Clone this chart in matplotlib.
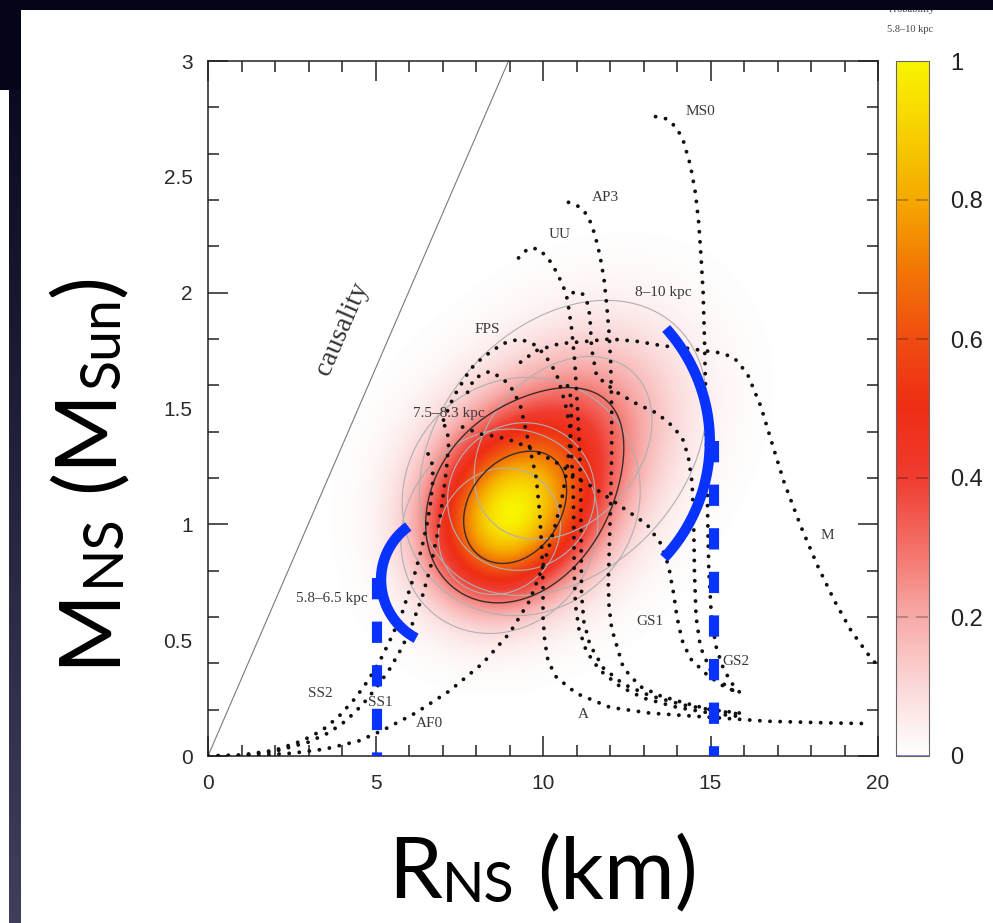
import numpy as np
import matplotlib
matplotlib.use('Agg')
import matplotlib.pyplot as plt
from matplotlib.colors import LinearSegmentedColormap, Normalize, to_rgb
from matplotlib.cm import ScalarMappable
from matplotlib.patches import Rectangle
from matplotlib.ticker import MultipleLocator
from matplotlib.font_manager import FontProperties

plt.rcParams['font.family'] = ['Liberation Sans', 'DejaVu Sans']
plt.rcParams['axes.linewidth'] = 1.1

# ---------------- data ----------------
# probability components (one per distance range): centre, widths, correlation, weight
comp_names = ['5.8–6.5 kpc', '7.5–8.3 kpc', '8–10 kpc']
comp_R0 = [8.7, 9.35, 10.6]
comp_M0 = [0.97, 1.12, 1.33]
comp_sR = [1.2, 1.45, 1.75]
comp_sM = [0.18, 0.21, 0.26]
comp_rho = [0.10, 0.05, 0.30]
comp_w = [0.7, 1.0, 0.65]
display_gamma = 0.7           # colour scale of the probability map
black_levels = [0.28, 0.68]   # combined-probability contours
gray_q_levels = [2.3, 6.0]    # per-distance contours (Mahalanobis q)

# equation-of-state mass-radius curves (R in km, M in Msun)
SS2_R = [0, 1.0, 2.0, 2.8, 3.4, 3.9, 4.4, 4.8, 5.2, 5.5, 5.8, 6.0, 6.2, 6.4, 6.55, 6.65, 6.72, 6.68, 6.55, 6.35]
SS2_M = [0, 0.004, 0.025, 0.065, 0.11, 0.17, 0.25, 0.33, 0.43, 0.52, 0.62, 0.71, 0.80, 0.91, 1.01, 1.10, 1.20, 1.27, 1.31, 1.32]
SS1_R = [0, 1.0, 2.0, 3.0, 3.6, 4.1, 4.6, 5.0, 5.4, 5.8, 6.1, 6.4, 6.65, 6.85, 7.0, 7.12, 7.18, 7.15, 7.05, 6.9]
SS1_M = [0, 0.003, 0.02, 0.06, 0.10, 0.15, 0.22, 0.29, 0.37, 0.47, 0.57, 0.69, 0.82, 0.96, 1.10, 1.24, 1.34, 1.40, 1.43, 1.44]
AF0_R = [0, 1.5, 2.5, 3.5, 4.5, 5.2, 6.2, 7.2, 8.2, 9.0, 9.6, 10.0, 10.3, 10.55, 10.72, 10.82, 10.85, 10.8, 10.65]
AF0_M = [0, 0.003, 0.012, 0.03, 0.065, 0.11, 0.186, 0.28, 0.40, 0.53, 0.67, 0.82, 0.96, 1.10, 1.24, 1.38, 1.50, 1.58, 1.62]
A_R = [7.75, 7.95, 8.4, 8.8, 9.1, 9.33, 9.5, 9.65, 9.8, 9.9, 9.96, 10.0, 10.0, 10.05, 10.15, 10.4, 11.0, 12.0, 13.2, 14.7, 16.7, 18.5, 19.6]
A_M = [1.57, 1.63, 1.66, 1.63, 1.58, 1.51, 1.40, 1.30, 1.20, 1.05, 0.90, 0.75, 0.60, 0.50, 0.41, 0.34, 0.27, 0.21, 0.185, 0.17, 0.15, 0.143, 0.14]
FPS_R = [7.03, 7.33, 7.83, 8.2, 8.8, 9.3, 9.7, 10.0, 10.2, 10.4, 10.55, 10.7, 10.8, 10.85, 10.9, 10.92, 10.93, 10.97, 11.07, 11.3, 11.7, 12.3, 13.0, 14.0, 15.0, 15.9]
FPS_M = [1.45, 1.55, 1.67, 1.72, 1.78, 1.80, 1.78, 1.74, 1.70, 1.65, 1.58, 1.50, 1.42, 1.30, 1.15, 1.0, 0.8, 0.65, 0.55, 0.45, 0.37, 0.30, 0.25, 0.21, 0.185, 0.17]
UU_R = [9.27, 9.55, 9.85, 10.15, 10.4, 10.6, 10.73, 10.85, 10.95, 11.03, 11.1, 11.13, 11.14, 11.15, 11.22, 11.4, 11.8, 12.4, 13.2, 14.2, 15.2, 15.9]
UU_M = [2.15, 2.19, 2.19, 2.15, 2.09, 2.03, 1.97, 1.85, 1.70, 1.50, 1.30, 1.10, 0.90, 0.70, 0.58, 0.48, 0.38, 0.31, 0.26, 0.22, 0.195, 0.18]
AP3_R = [10.76, 11.1, 11.35, 11.55, 11.7, 11.82, 11.9, 11.97, 12.02, 12.05, 12.05, 12.02, 11.98, 11.95, 11.97, 12.05, 12.4, 12.9, 13.5, 14.2, 15.0, 15.9]
AP3_M = [2.39, 2.37, 2.33, 2.25, 2.16, 2.06, 1.95, 1.83, 1.70, 1.50, 1.30, 1.10, 0.90, 0.75, 0.65, 0.55, 0.38, 0.30, 0.26, 0.23, 0.20, 0.185]
MS0_R = [13.36, 13.7, 14.0, 14.2, 14.4, 14.55, 14.65, 14.72, 14.78, 14.82, 14.85, 14.87, 14.9, 14.92, 14.95, 15.02, 15.15, 15.35, 15.6, 15.9]
MS0_M = [2.76, 2.75, 2.71, 2.65, 2.55, 2.43, 2.30, 2.15, 2.00, 1.80, 1.60, 1.40, 1.20, 1.00, 0.80, 0.62, 0.48, 0.39, 0.32, 0.27]
GS2_R = [10.9, 11.15, 11.3, 11.4, 11.45, 11.6, 12.2, 12.8, 13.4, 13.9, 14.2, 14.35, 14.45, 14.5, 14.52, 14.57, 14.7, 15.0, 15.4, 15.9]
GS2_M = [2.00, 2.00, 1.97, 1.90, 1.76, 1.64, 1.57, 1.52, 1.48, 1.42, 1.36, 1.28, 1.18, 1.00, 0.80, 0.60, 0.47, 0.37, 0.31, 0.26]
GS1_R = [7.6, 8.13, 8.6, 9.1, 9.6, 10.1, 10.6, 11.0, 11.5, 12.3, 13.1, 13.5, 13.75, 13.9, 14.0, 14.15, 14.4, 14.9, 15.4, 15.9]
GS1_M = [1.42, 1.39, 1.38, 1.36, 1.33, 1.29, 1.25, 1.20, 1.16, 1.08, 1.00, 0.92, 0.82, 0.70, 0.60, 0.50, 0.42, 0.35, 0.30, 0.27]
Mmf_R = [9.33, 9.8, 10.5, 11.3, 12.0, 12.8, 13.6, 14.3, 14.8, 15.3, 15.7, 16.1, 16.5, 16.9, 17.2, 17.7, 18.2, 18.7, 19.2, 19.7, 20.1]
Mmf_M = [1.70, 1.75, 1.78, 1.79, 1.80, 1.79, 1.77, 1.76, 1.75, 1.74, 1.72, 1.65, 1.51, 1.32, 1.18, 0.99, 0.82, 0.67, 0.54, 0.44, 0.37]

causal_R = [0.0, 8.97]
causal_M = [0.0, 3.0]

eos_labels = ['MS0', 'AP3', 'UU', 'FPS', 'A', 'GS1', 'GS2', 'M', 'SS2', 'SS1', 'AF0']
eos_label_R = [14.7, 11.85, 10.5, 8.35, 11.2, 13.2, 15.75, 18.5, 3.35, 5.15, 6.6]
eos_label_M = [2.78, 2.41, 2.25, 1.84, 0.18, 0.58, 0.41, 0.95, 0.27, 0.23, 0.14]
dist_label_R = [3.7, 7.2, 13.6]
dist_label_M = [0.68, 1.48, 2.00]

x_ticks = [0, 5, 10, 15, 20]
y_tick_vals = [0, 0.5, 1, 1.5, 2, 2.5, 3]
y_tick_text = ['0', '0.5', '1', '1.5', '2', '2.5', '3']
cb_tick_vals = [0, 0.2, 0.4, 0.6, 0.8, 1]
cb_tick_text = ['0', '0.2', '0.4', '0.6', '0.8', '1']

# blue hand-drawn annotations: arcs (centre, radii, start/end angle) and dashed verticals
arcL = dict(c=(7.14, 0.76), r=(1.975, 0.285), t=(126, 242))
arcR = dict(c=(9.9, 1.355), r=(5.08, 0.733), t=(-43, 42))
vline_R = [5.05, 15.1]
vline_top = [0.77, 1.36]

# ---------------- figure ----------------
W, H, DPI = 993, 923, 100
fig = plt.figure(figsize=(W / DPI, H / DPI), dpi=DPI)
fig.patch.set_facecolor('white')


def fx(px):
    return px / W


def fy(py):
    return 1.0 - py / H


ax = fig.add_axes([fx(208), fy(756), (878 - 208) / W, (756 - 61) / H])
ax.set_xlim(0, 20)
ax.set_ylim(0, 3)

cmap = LinearSegmentedColormap.from_list('prob', [
    (0.0, '#ffffff'), (0.1, '#fbd8d8'), (0.2, '#f7aaa8'), (0.3, '#f37068'),
    (0.4, '#f03c30'), (0.5, '#ee2c14'), (0.6, '#f04c12'), (0.7, '#f27605'),
    (0.8, '#f5a800'), (0.9, '#f7d000'), (1.0, '#f9f400')])

Rg = np.linspace(0, 20, 501)
Mg = np.linspace(0, 3, 451)
RR, MM = np.meshgrid(Rg, Mg)
total = np.zeros_like(RR)
qs = []
for R0, M0, sR, sM, rho, w in zip(comp_R0, comp_M0, comp_sR, comp_sM, comp_rho, comp_w):
    dr = (RR - R0) / sR
    dm = (MM - M0) / sM
    q = (dr ** 2 - 2 * rho * dr * dm + dm ** 2) / (1 - rho ** 2)
    qs.append(q)
    total += w / (sR * sM * np.sqrt(1 - rho ** 2)) * np.exp(-0.5 * q)
prob = (total / total.max()) ** display_gamma

ax.imshow(prob, extent=(0, 20, 0, 3), origin='lower', aspect='auto', cmap=cmap,
          vmin=0, vmax=1, interpolation='bilinear', zorder=0)

for q in qs:
    ax.contour(RR, MM, q, levels=gray_q_levels, colors='#b0b0b0', linewidths=0.8, zorder=1)

ax.contour(RR, MM, prob, levels=black_levels, colors='#3b2b2b', linewidths=1.0, zorder=2)

ax.plot(causal_R, causal_M, color='#7a7a7a', lw=0.8, zorder=2)

curves = [(SS2_R, SS2_M), (SS1_R, SS1_M), (AF0_R, AF0_M), (A_R, A_M), (FPS_R, FPS_M),
          (UU_R, UU_M), (AP3_R, AP3_M), (MS0_R, MS0_M), (GS2_R, GS2_M), (GS1_R, GS1_M),
          (Mmf_R, Mmf_M)]
for R_, M_ in curves:
    ax.plot(R_, M_, color='#111111', lw=2.8, ls=(0, (0.01, 2.6)),
            dash_capstyle='round', zorder=3)

serif = ['Liberation Serif', 'DejaVu Serif']
for s, r, m in zip(eos_labels, eos_label_R, eos_label_M):
    ax.text(r, m, s, family=serif, fontsize=11, color='#3a3a3a', ha='center', va='center', zorder=4)
for s, r, m in zip(comp_names, dist_label_R, dist_label_M):
    ax.text(r, m, s, family=serif, fontsize=11, color='#3a3a3a', ha='center', va='center', zorder=4)
ax.text(3.99, 1.845, 'causality', family=serif, fontsize=20, color='#333333',
        rotation=66.6, rotation_mode='anchor', ha='center', va='center', zorder=4)

blue = '#0833ff'
for arc in (arcL, arcR):
    t = np.deg2rad(np.linspace(arc['t'][0], arc['t'][1], 200))
    ax.plot(arc['c'][0] + arc['r'][0] * np.cos(t), arc['c'][1] + arc['r'][1] * np.sin(t),
            color=blue, lw=7.5, solid_capstyle='butt', zorder=6)
for r, top in zip(vline_R, vline_top):
    ax.plot([r, r], [top, 0.0], color=blue, lw=7.3, ls=(0, (2.1, 2.2)),
            dash_capstyle='butt', zorder=6, clip_on=False)

# ticks
ax.xaxis.set_major_locator(MultipleLocator(5))
ax.xaxis.set_minor_locator(MultipleLocator(1))
ax.yaxis.set_major_locator(MultipleLocator(1))
ax.yaxis.set_minor_locator(MultipleLocator(0.2))
ax.tick_params(which='both', direction='in', top=True, right=True, color='#222222', width=1.1)
ax.tick_params(which='major', length=14.5)
ax.tick_params(which='minor', length=8)
ax.tick_params(axis='y', which='both', labelleft=False)
ax.set_xticks(x_ticks)
ax.set_xticklabels([str(v) for v in x_ticks])
ax.tick_params(axis='x', labelsize=15, labelcolor='#2a2a2a', pad=13)
for sp in ax.spines.values():
    sp.set_color('#222222')

sec = ax.secondary_yaxis('left')
sec.set_yticks(y_tick_vals)
sec.set_yticklabels(y_tick_text)
sec.tick_params(length=0, pad=11, labelsize=15, labelcolor='#2a2a2a')
sec.spines['left'].set_visible(False)

# colorbar
cax = fig.add_axes([fx(896), fy(756), (929 - 896) / W, (756 - 61) / H])
sm = ScalarMappable(norm=Normalize(0, 1), cmap=cmap)
cb = fig.colorbar(sm, cax=cax)
cb.set_ticks(cb_tick_vals)
cb.set_ticklabels(cb_tick_text)
cax.tick_params(length=0, pad=15, labelsize=17, labelcolor='#222222')
cb.outline.set_edgecolor('#666666')
cb.outline.set_linewidth(0.8)
for lev in [0.2, 0.4, 0.6, 0.8]:
    c = np.array(to_rgb(cmap(lev))) * 0.7
    cax.axhline(lev, color=c, lw=1.1, ls=(0, (8, 5)))
cax.axhline(0.0, color='#7070d0', lw=1.2)

fig.text(fx(912), fy(9), 'Probability', family=serif, fontsize=7.5, color='#444444',
         ha='center', va='center')
fig.text(fx(910), fy(29), '5.8–10 kpc', family=serif, fontsize=7.5, color='#444444',
         ha='center', va='center')

# axis titles built from pieces (Gill-Sans-like look with small subscripts)
renderer = fig.canvas.get_renderer()


def tw(s, size):
    fp = FontProperties(family='Lato', size=size)
    return renderer.get_text_width_height_descent(s, fp, ismath=False)[0]


big, small = 62, 40
space = tw('a a', big) - tw('aa', big)

xl = [('R', big, 0), ('NS', small, 4), (' ', big, 0), ('(km)', big, 0)]
widths = [space if s == ' ' else tw(s, sz) for s, sz, _ in xl]
x0 = 543 - sum(widths) / 2
for (s, sz, dy), wd in zip(xl, widths):
    if s != ' ':
        fig.text(fx(x0), fy(898 + dy), s, family='Lato', fontsize=sz, color='black',
                 ha='left', va='baseline')
    x0 += wd

yl = [('M', big, 0), ('NS', small, 6), (' ', big, 0), ('(M', big, 0), ('Sun', small, 6), (')', big, 0)]
widths = [space if s == ' ' else tw(s, sz) for s, sz, _ in yl]
y0 = 470 + sum(widths) / 2
for (s, sz, dx), wd in zip(yl, widths):
    if s != ' ':
        fig.text(fx(113 + dx), fy(y0), s, family='Lato', fontsize=sz, color='black',
                 ha='left', va='baseline', rotation=90, rotation_mode='anchor')
    y0 -= wd

# slide frame (dark background pieces)
dark = '#05051a'
fig.add_artist(Rectangle((0, fy(10)), 1, 10 / H, transform=fig.transFigure,
                         facecolor=dark, edgecolor='none', zorder=20))
fig.add_artist(Rectangle((0, fy(90)), 21 / W, 80 / H, transform=fig.transFigure,
                         facecolor=dark, edgecolor='none', zorder=20))
sax = fig.add_axes([fx(9), 0, 12 / W, fy(90)], zorder=20)
grad = np.linspace(0, 1, 200).reshape(-1, 1)
strip_cmap = LinearSegmentedColormap.from_list('strip', ['#3f3f5c', '#0a0a22'])
sax.imshow(grad, aspect='auto', cmap=strip_cmap, origin='lower', extent=(0, 1, 0, 1))
sax.axis('off')

fig.savefig('out.png', dpi=DPI, facecolor=fig.get_facecolor())
